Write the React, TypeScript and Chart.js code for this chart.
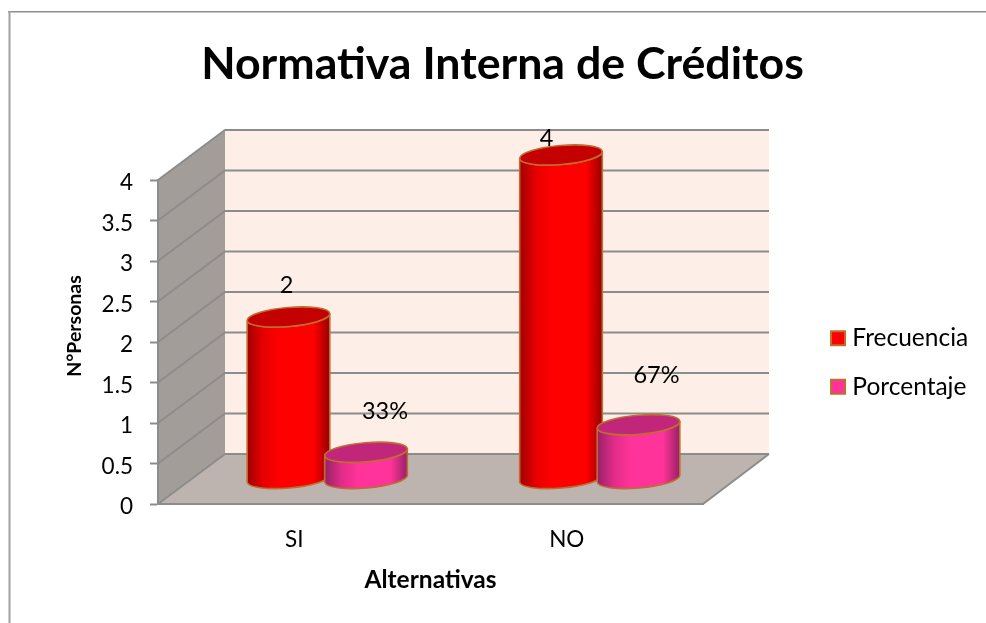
import React, { useEffect, useRef } from "react";
import { Chart, registerables } from "chart.js";

Chart.register(...registerables);

const categories = ["SI", "NO"];
const frecuencia = [2, 4];
const porcentaje = [0.33, 0.67];
const chartTitle = "Normativa Interna de Créditos";
const yAxisTitle = "N°Personas";
const xAxisTitle = "Alternativas";

const FONT = "Lato";
const GRID = "#8C8C8C";
const EDGE = "#BE6F2E";
const DEPTH_X = 66;
const DEPTH_Y = -50;
const TILT = -0.085;
const ELLIPSE_RY = 9.5;
// Hand placed data labels, as the source chart has them: [dx, dy] from the bar's front top
const LABEL_NUDGE = [
  [[31, -57], [18.5, -42]],
  [[52, -66], [51, -74]],
];
const SIDES = [
  { edgeL: "#A00000", mid: "#FF0000", edgeR: "#960000", top: "#C40000" },
  { edgeL: "#962066", mid: "#FF3399", edgeR: "#962066", top: "#C2267A" },
];

const scene3d = {
  id: "scene3d",
  beforeLayout(chart: any) {
    const legend = chart.legend;
    if (legend && !legend.__wrapped) {
      const fit = legend.fit;
      legend.fit = function () {
        fit.call(this);
        this.width = 283;
      };
      legend.__wrapped = true;
    }
  },
  afterLayout(chart: any) {
    const t = chart.titleBlock;
    t.left = 19;
    t.right = 986;
    const l = chart.legend;
    const w = l.right - l.left;
    const h = l.bottom - l.top;
    l.left = 812.2;
    l.right = l.left + w;
    l.top = 51;
    l.bottom = l.top + h;
  },
  beforeDraw(chart: any) {
    const { ctx } = chart;
    const x = chart.scales.x;
    const y = chart.scales.y;
    const L = x.left, R = x.right, T = y.top, B = y.bottom;
    ctx.save();
    // outer frame
    ctx.fillStyle = "#FFFFFF";
    ctx.fillRect(0, 0, chart.width, chart.height);
    ctx.fillStyle = "#8E8E8E";
    ctx.fillRect(8, 11, chart.width - 8, 1.5);
    ctx.fillStyle = "#A0A0A0";
    ctx.fillRect(8.5, 11, 2, chart.height - 11);
    // side wall
    const poly = (pts: number[][], fill: string) => {
      ctx.beginPath();
      pts.forEach((p, i) => (i ? ctx.lineTo(p[0], p[1]) : ctx.moveTo(p[0], p[1])));
      ctx.closePath();
      ctx.fillStyle = fill;
      ctx.fill();
    };
    poly([[L, T], [L + DEPTH_X + 1, T + DEPTH_Y], [L + DEPTH_X + 1, B + DEPTH_Y], [L, B]], "#A39D99");
    poly([[L + DEPTH_X + 1, T + DEPTH_Y], [R + DEPTH_X, T + DEPTH_Y], [R + DEPTH_X, B + DEPTH_Y], [L + DEPTH_X + 1, B + DEPTH_Y]], "#FDEFE8");
    poly([[L, B], [R, B], [R + DEPTH_X, B + DEPTH_Y], [L + DEPTH_X + 1, B + DEPTH_Y]], "#BDB4B0");
    // grid lines on both walls, from the value scale
    ctx.strokeStyle = GRID;
    ctx.lineWidth = 2;
    y.ticks.forEach((tick: any) => {
      const p = y.getPixelForValue(tick.value);
      ctx.beginPath();
      ctx.moveTo(L, p);
      ctx.lineTo(L + DEPTH_X + 1, p + DEPTH_Y);
      ctx.lineTo(R + DEPTH_X, p + DEPTH_Y);
      ctx.stroke();
    });
    ctx.beginPath();
    ctx.moveTo(R, B);
    ctx.lineTo(R + DEPTH_X, B + DEPTH_Y);
    ctx.stroke();
    ctx.restore();
  },
  beforeDatasetDraw() {
    return false;
  },
  afterDatasetsDraw(chart: any) {
    const { ctx } = chart;
    ctx.save();
    // data labels sit behind the cylinders
    ctx.font = `23.5px ${FONT}`;
    ctx.fillStyle = "#000000";
    ctx.textAlign = "center";
    ctx.textBaseline = "middle";
    chart.data.datasets.forEach((ds: any, d: number) => {
      chart.getDatasetMeta(d).data.forEach((bar: any, i: number) => {
        const v = ds.data[i];
        const text = d === 1 ? `${Math.round(v * 100)}%` : String(v);
        ctx.fillText(text, bar.x + LABEL_NUDGE[d][i][0], bar.y + LABEL_NUDGE[d][i][1]);
      });
    });
    // cylinders, first series first so the second overlaps it
    chart.data.datasets.forEach((ds: any, d: number) => {
      const s = SIDES[d];
      chart.getDatasetMeta(d).data.forEach((bar: any) => {
        const rx = bar.width / 2;
        const cx = bar.x + DEPTH_X / 2;
        const topY = bar.y + DEPTH_Y / 2;
        const botY = bar.base + DEPTH_Y / 2;
        const grad = ctx.createLinearGradient(cx - rx, 0, cx + rx, 0);
        grad.addColorStop(0, s.edgeL);
        grad.addColorStop(0.2, d === 0 ? "#E80000" : "#E02C88");
        grad.addColorStop(0.4, s.mid);
        grad.addColorStop(0.8, s.mid);
        grad.addColorStop(1, s.edgeR);
        ctx.beginPath();
        ctx.ellipse(cx, topY, rx, ELLIPSE_RY, TILT, Math.PI, 0, true);
        ctx.ellipse(cx, botY, rx, ELLIPSE_RY, TILT, 0, Math.PI, false);
        ctx.closePath();
        ctx.fillStyle = grad;
        ctx.fill();
        ctx.strokeStyle = EDGE;
        ctx.lineWidth = 1.6;
        ctx.stroke();
        ctx.beginPath();
        ctx.ellipse(cx, topY, rx, ELLIPSE_RY, TILT, 0, Math.PI * 2);
        ctx.fillStyle = s.top;
        ctx.fill();
        ctx.stroke();
      });
    });
    ctx.restore();
  },
  afterDraw(chart: any) {
    const { ctx } = chart;
    ctx.save();
    ctx.translate(75, 326);
    ctx.rotate(-Math.PI / 2);
    ctx.font = `bold 19.5px ${FONT}`;
    ctx.fillStyle = "#000000";
    ctx.textAlign = "center";
    ctx.textBaseline = "middle";
    ctx.fillText(yAxisTitle, 0, 0);
    ctx.restore();
  },
};

export default function App() {
  const ref = useRef<HTMLCanvasElement>(null);
  useEffect(() => {
    if (!ref.current) return;
    const chart = new Chart(ref.current, {
      type: "bar",
      data: {
        labels: categories,
        datasets: [
          { label: "Frecuencia", data: frecuencia, backgroundColor: "#FF0000", borderColor: EDGE, borderWidth: 2, categoryPercentage: 0.569, barPercentage: 1.07 },
          { label: "Porcentaje", data: porcentaje, backgroundColor: "#FF3399", borderColor: EDGE, borderWidth: 2, categoryPercentage: 0.569, barPercentage: 1.07 },
        ],
      },
      options: {
        responsive: false,
        animation: false,
        layout: { padding: 0 },
        plugins: {
          tooltip: { enabled: false },
          title: {
            display: true,
            text: chartTitle,
            color: "#000000",
            font: { family: FONT, size: 44.7, weight: "bold" },
            padding: { top: 38, bottom: 88.36 },
          },
          legend: {
            display: true,
            position: "right",
            labels: {
              usePointStyle: true,
              pointStyle: "rect",
              boxWidth: 4.1,
              boxHeight: 14,
              padding: 23.8,
              color: "#000000",
              font: { family: FONT, size: 24.5 },
            },
          },
        },
        scales: {
          x: {
            type: "category",
            grid: { drawOnChartArea: false, drawTicks: false },
            border: { color: GRID, width: 2 },
            ticks: { color: "#000000", font: { family: FONT, size: 22.5 }, padding: 22 },
            title: {
              display: true,
              text: xAxisTitle,
              color: "#000000",
              font: { family: FONT, size: 24.5, weight: "bold" },
              padding: { top: 28, bottom: 28 },
            },
            afterFit(scale: any) {
              scale.height = 119;
            },
          },
          y: {
            min: 0,
            max: 4,
            grid: { drawOnChartArea: false, color: GRID, tickColor: GRID, tickLength: 8, tickWidth: 2 },
            border: { color: GRID, width: 2 },
            ticks: {
              stepSize: 0.5,
              color: "#000000",
              font: { family: FONT, size: 22.5 },
              padding: 17,
              labelOffset: 3,
              callback: (v: any) => String(v),
            },
            afterFit(scale: any) {
              scale.width = 158;
            },
          },
        },
      } as any,
      plugins: [scene3d as any],
    });
    return () => chart.destroy();
  }, []);
  return (
    <canvas
      ref={ref}
      width={986}
      height={623}
      style={{ position: "absolute", left: 0, top: 0, display: "block" }}
    />
  );
}
